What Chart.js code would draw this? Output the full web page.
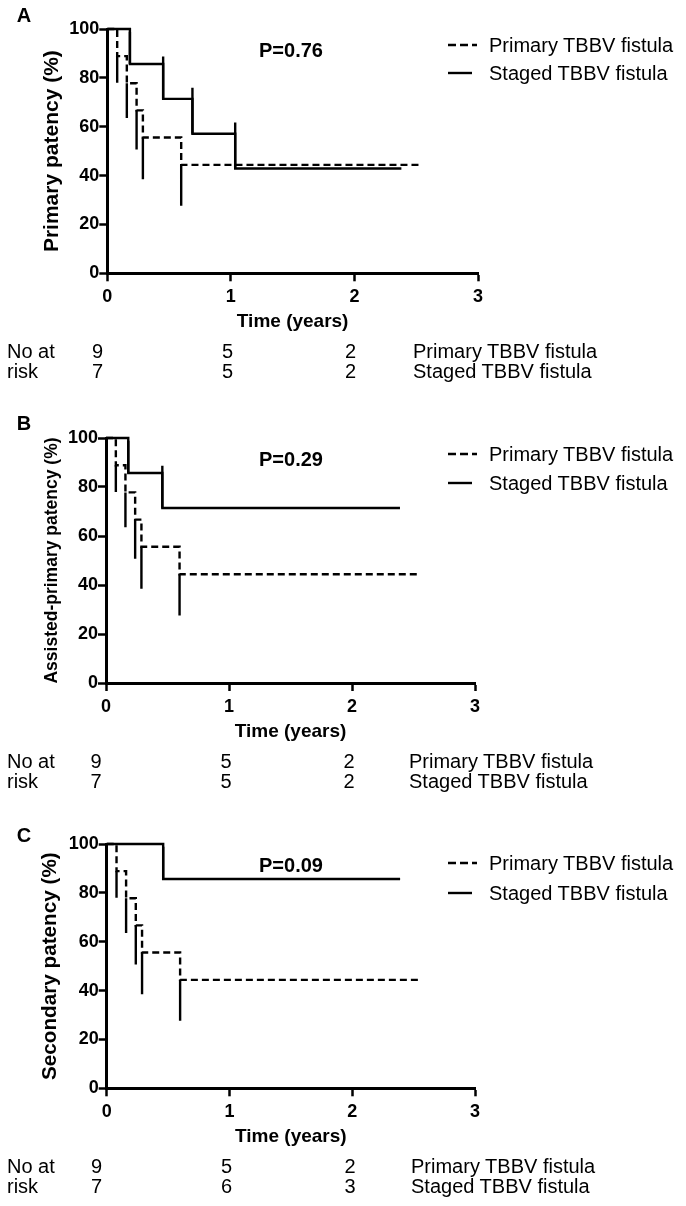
<!DOCTYPE html>
<html><head><meta charset="utf-8">
<script src="https://cdn.jsdelivr.net/npm/chart.js@4.4.0/dist/chart.umd.min.js"></script>
<style>
html,body{margin:0;padding:0;background:#fff;}
body{width:686px;height:1206px;position:relative;overflow:hidden;font-family:"Liberation Sans",Arial,sans-serif;color:#000;}
canvas{position:absolute;left:0;}
.t{position:absolute;line-height:1;white-space:nowrap;transform:translateY(-50%);}
.c{transform:translate(-50%,-50%);}
.b{font-weight:bold;}
svg{position:absolute;overflow:visible;}
</style></head><body>
<script>
// ---------- data ----------
const xTicks = [0, 1, 2, 3];
const yTicks = [0, 20, 40, 60, 80, 100];
const seriesNames = ['Primary TBBV fistula', 'Staged TBBV fistula'];
const xTitle = 'Time (years)';
const panelLetters = ['A', 'B', 'C'];
const yTitles = ['Primary patency (%)', 'Assisted-primary patency (%)', 'Secondary patency (%)'];
const pValues = ['P=0.76', 'P=0.29', 'P=0.09'];
const riskHeader = ['No at', 'risk'];

// Primary TBBV fistula (same curve in all three panels)
const primaryTimes = [0, 0.08, 0.158, 0.237, 0.288, 0.598, 2.54];
const primarySurv  = [100, 88.9, 77.8, 66.7, 55.6, 44.4, 44.4];
const primaryErrTimes = [0.08, 0.158, 0.237, 0.288, 0.598];
const primaryErrLevel = [88.9, 77.8, 66.7, 55.6, 44.4];
const primaryErrEnd   = [78.0, 63.6, 50.7, 38.5, 27.6];

// Staged TBBV fistula
const stagedTimesA = [0, 0.183, 0.452, 0.689, 1.035, 2.38];
const stagedSurvA  = [100, 85.7, 71.4, 57.1, 42.9, 42.9];
const stagedErrTimesA = [0.183, 0.452, 0.689, 1.035];
const stagedErrLevelA = [85.7, 71.4, 57.1, 42.9];
const stagedErrEndA   = [98.9, 88.7, 76.0, 61.7];

const stagedTimesB = [0, 0.181, 0.458, 2.39];
const stagedSurvB  = [100, 85.7, 71.4, 71.4];
const stagedErrTimesB = [0.181, 0.458];
const stagedErrLevelB = [85.7, 71.4];
const stagedErrEndB   = [98.9, 88.7];

const stagedTimesC = [0, 0.46, 2.39];
const stagedSurvC  = [100, 85.7, 85.7];
const stagedErrTimesC = [0.46];
const stagedErrLevelC = [85.7];
const stagedErrEndC   = [98.9];

// Numbers at risk (columns)
const riskPrimaryA = [9, 5, 2];
const riskStagedA  = [7, 5, 2];
const riskPrimaryB = [9, 5, 2];
const riskStagedB  = [7, 5, 2];
const riskPrimaryC = [9, 5, 2];
const riskStagedC  = [7, 6, 3];

// ---------- layout ----------
const FAM = "'Liberation Sans', Arial, sans-serif";
Chart.defaults.font.family = FAM;
Chart.defaults.color = '#000';

const panels = [
  {top: 29, bottom: 273.3, left: 107.3, right: 478, yTitleX: 52, yTitleSize: 21,
   st: stagedTimesA, ss: stagedSurvA, et: stagedErrTimesA, el: stagedErrLevelA, ee: stagedErrEndA,
   rp: riskPrimaryA, rs: riskStagedA, letterY: 15, pY: 50, legY: [45, 73], riskNumX: [97.5, 227.5, 350.5], riskLabX: 413},
  {top: 438.3, bottom: 683.3, left: 106, right: 475, yTitleX: 51.7, yTitleSize: 17.5,
   st: stagedTimesB, ss: stagedSurvB, et: stagedErrTimesB, el: stagedErrLevelB, ee: stagedErrEndB,
   rp: riskPrimaryB, rs: riskStagedB, letterY: 423, pY: 459, legY: [454, 483], riskNumX: [96, 226, 349], riskLabX: 409},
  {top: 844, bottom: 1088.3, left: 106.7, right: 475, yTitleX: 50, yTitleSize: 20.7,
   st: stagedTimesC, ss: stagedSurvC, et: stagedErrTimesC, el: stagedErrLevelC, ee: stagedErrEndC,
   rp: riskPrimaryC, rs: riskStagedC, letterY: 835, pY: 865, legY: [863, 893], riskNumX: [96.5, 226.5, 350], riskLabX: 411}
];

function addText(txt, x, y, size, bold, center) {
  const d = document.createElement('div');
  d.className = 't' + (bold ? ' b' : '') + (center ? ' c' : '');
  d.style.left = x + 'px';
  d.style.top = y + 'px';
  d.style.fontSize = size + 'px';
  d.textContent = txt;
  document.body.appendChild(d);
}
function addLegendLine(x1, x2, y, dashed) {
  const ns = 'http://www.w3.org/2000/svg';
  const s = document.createElementNS(ns, 'svg');
  s.setAttribute('width', 686); s.setAttribute('height', 1206);
  s.style.left = '0px'; s.style.top = '0px';
  const l = document.createElementNS(ns, 'line');
  l.setAttribute('x1', x1); l.setAttribute('x2', x2);
  l.setAttribute('y1', y); l.setAttribute('y2', y);
  l.setAttribute('stroke', '#000'); l.setAttribute('stroke-width', 2.4);
  if (dashed) l.setAttribute('stroke-dasharray', '8,4');
  s.appendChild(l);
  document.body.appendChild(s);
}
function pts(ts, vs) { return ts.map((t, i) => ({x: t, y: vs[i]})); }
function errPts(ts, lv, en) {
  const out = [];
  ts.forEach((t, i) => { out.push({x: t, y: lv[i]}, {x: t, y: en[i]}, {x: t, y: null}); });
  return out;
}

const X_H = 60, PAD_TOP = 12, TXT = 20;
panels.forEach((p, k) => {
  const cTop = p.top - PAD_TOP;
  const cH = Math.round(p.bottom + X_H - cTop);
  const cv = document.createElement('canvas');
  cv.width = 686; cv.height = cH;
  cv.style.width = '686px'; cv.style.height = cH + 'px';
  cv.style.top = cTop + 'px';
  document.body.appendChild(cv);
  const lineH = p.yTitleSize * 1.2;
  const padL = p.yTitleX - lineH / 2;
  const yW = p.left - padL;
  const xH = cH + cTop - p.bottom;
  const tickFont = {size: 18, weight: 'bold', family: FAM};
  new Chart(cv, {
    type: 'line',
    data: {
      datasets: [
        {label: seriesNames[0], data: pts(primaryTimes, primarySurv), stepped: 'before',
         borderColor: '#000', borderWidth: 2.4, borderDash: [7, 4], pointRadius: 0, fill: false, clip: false},
        {label: seriesNames[1], data: pts(p.st, p.ss), stepped: 'before',
         borderColor: '#000', borderWidth: 2.4, pointRadius: 0, fill: false, clip: false},
        {label: 'err1', data: errPts(primaryErrTimes, primaryErrLevel, primaryErrEnd), spanGaps: false,
         borderColor: '#000', borderWidth: 2.4, pointRadius: 0, fill: false, clip: false},
        {label: 'err2', data: errPts(p.et, p.el, p.ee), spanGaps: false,
         borderColor: '#000', borderWidth: 2.4, pointRadius: 0, fill: false, clip: false}
      ]
    },
    options: {
      responsive: false, animation: false, events: [],
      plugins: {legend: {display: false}, tooltip: {enabled: false}},
      layout: {padding: {left: padL, right: 686 - p.right, top: PAD_TOP, bottom: 0}},
      scales: {
        x: {type: 'linear', min: 0, max: 3,
            afterBuildTicks: s => { s.ticks = xTicks.map(v => ({value: v})); },
            afterFit: s => { s.height = xH; },
            ticks: {padding: 5, font: tickFont, color: '#000', maxRotation: 0, autoSkip: false},
            grid: {drawOnChartArea: false, tickLength: 8, tickWidth: 2.5, tickColor: '#000'},
            border: {display: true, width: 3, color: '#000'},
            title: {display: true, text: xTitle, color: '#000', padding: 0,
                    font: {size: 19, weight: 'bold', family: FAM, lineHeight: 1.2}}},
        y: {type: 'linear', min: 0, max: 100,
            afterBuildTicks: s => { s.ticks = yTicks.map(v => ({value: v})); },
            afterFit: s => { s.width = yW; },
            ticks: {padding: 0, font: tickFont, color: '#000', autoSkip: false},
            grid: {drawOnChartArea: false, tickLength: 8, tickWidth: 2.5, tickColor: '#000'},
            border: {display: true, width: 3, color: '#000'},
            title: {display: true, text: yTitles[k], color: '#000', padding: 0,
                    font: {size: p.yTitleSize, weight: 'bold', family: FAM, lineHeight: 1.2}}}
      }
    }
  });

  // panel letter, p-value
  addText(panelLetters[k], 24, p.letterY, 20, true, true);
  addText(pValues[k], 259, p.pY, 20, true, false);
  // legend
  addLegendLine(448, 477, p.legY[0], true);
  addLegendLine(448, 472, p.legY[1], false);
  addText(seriesNames[0], 489, p.legY[0], TXT, false, false);
  addText(seriesNames[1], 489, p.legY[1], TXT, false, false);
  // numbers at risk
  const r1 = p.bottom + 78, r2 = p.bottom + 98;
  addText(riskHeader[0], 7, r1, TXT, false, false);
  addText(riskHeader[1], 7, r2, TXT, false, false);
  p.rp.forEach((v, i) => addText(String(v), p.riskNumX[i], r1, TXT, false, true));
  p.rs.forEach((v, i) => addText(String(v), p.riskNumX[i], r2, TXT, false, true));
  addText(seriesNames[0], p.riskLabX, r1, TXT, false, false);
  addText(seriesNames[1], p.riskLabX, r2, TXT, false, false);
});
</script>
</body></html>
